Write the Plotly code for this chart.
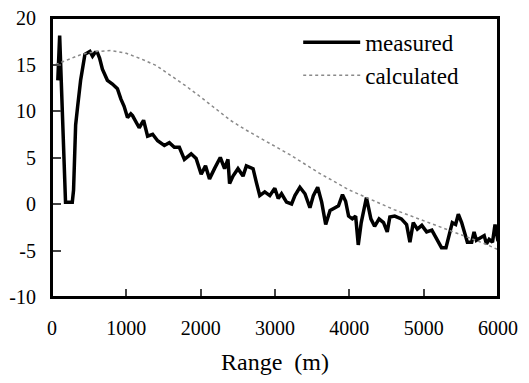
import plotly.graph_objects as go

# measured series (range in m, value)
meas_range = [78, 90, 103, 182, 273, 290, 318, 345, 385, 443, 475, 510, 545, 580, 610, 640,
              678, 745, 813, 880, 926, 970, 1016, 1060, 1083, 1128, 1173, 1232, 1286, 1354,
              1421, 1511, 1578, 1646, 1713, 1781, 1872, 1939, 2007, 2065, 2119, 2186, 2264,
              2322, 2367, 2389, 2435, 2502, 2570, 2615, 2705, 2750, 2795, 2862, 2930, 2997,
              3043, 3088, 3155, 3223, 3268, 3335, 3403, 3470, 3516, 3574, 3628, 3682, 3741,
              3808, 3854, 3908, 3950, 3990, 4040, 4085, 4120, 4160, 4230, 4290, 4340, 4400,
              4460, 4510, 4545, 4610, 4700, 4770, 4815, 4860, 4915, 4975, 5040, 5110, 5180,
              5240, 5300, 5340, 5385, 5430, 5466, 5511, 5543, 5588, 5646, 5678, 5709, 5768,
              5814, 5845, 5881, 5926, 5960, 6000]
meas_value = [13.3, 15.0, 18.1, 0.2, 0.2, 1.5, 8.5, 10.5, 13.3, 16.1, 16.2, 16.4, 15.9, 16.3,
              16.3, 15.7, 14.5, 13.3, 12.9, 12.4, 11.3, 10.5, 9.3, 9.7, 9.5, 8.8, 8.2, 9.0,
              7.3, 7.5, 6.8, 6.3, 6.6, 6.1, 6.1, 4.8, 5.4, 4.9, 3.2, 4.1, 2.7, 3.8, 5.0, 3.8,
              4.8, 2.2, 3.0, 3.8, 3.0, 4.1, 3.8, 2.3, 0.9, 1.3, 0.9, 1.7, 0.6, 1.1, 0.2, 0.0,
              0.9, 1.8, 1.1, -0.4, 0.9, 1.8, 0.2, -2.2, -0.7, -0.4, -0.2, 1.0, 0.3, -1.3,
              -1.6, -1.3, -4.4, -2.0, 0.7, -1.6, -2.4, -1.6, -2.0, -3.0, -1.4, -1.3, -1.6,
              -2.2, -4.1, -2.0, -2.7, -2.3, -3.0, -2.8, -3.8, -4.7, -4.7, -3.4, -2.0, -2.2,
              -1.1, -2.0, -2.9, -4.1, -4.1, -3.0, -3.9, -3.6, -3.4, -4.3, -3.8, -4.1, -2.2,
              -4.0]

# calculated series
calc_range = [50, 200, 400, 600, 800, 1000, 1200, 1400, 1600, 1800, 2000, 2200, 2400, 2600,
              2800, 3000, 3200, 3400, 3600, 3800, 4000, 4200, 4400, 4600, 4800, 5000, 5200,
              5400, 5600, 5800, 6000]
calc_value = [15.0, 15.5, 16.1, 16.4, 16.5, 16.2, 15.6, 14.9, 13.8, 12.7, 11.5, 10.3, 9.0,
              8.0, 7.1, 6.2, 5.3, 4.3, 3.3, 2.4, 1.5, 0.8, 0.1, -0.6, -1.2, -1.8, -2.4, -3.0,
              -3.6, -4.2, -4.9]

x_ticks = [0, 1000, 2000, 3000, 4000, 5000, 6000]
y_ticks = [-10, -5, 0, 5, 10, 15, 20]
y_tick_labels = ["-10", "-5", "0", "5", "10", "15", "20"]

FONT = "Liberation Serif"

fig = go.Figure()
fig.add_trace(go.Scatter(x=meas_range, y=meas_value, mode="lines", name="measured",
                         line=dict(color="black", width=3.5)))
fig.add_trace(go.Scatter(x=calc_range, y=calc_value, mode="lines", name="calculated",
                         line=dict(color="#8a8a8a", width=1.5, dash="dot")))

fig.update_layout(
    width=513, height=367,
    margin=dict(l=44, r=23, t=10, b=78, autoexpand=False),
    paper_bgcolor="white", plot_bgcolor="white",
    font=dict(family=FONT, size=20, color="black"),
    showlegend=True,
    legend=dict(x=0.552, y=0.99, xanchor="left", yanchor="top",
                bgcolor="rgba(0,0,0,0)", font=dict(family=FONT, size=23),
                itemwidth=57),
    xaxis=dict(range=[0, 6000], tickvals=x_ticks, ticks="inside", ticklen=8, tickwidth=2,
               showline=True, linewidth=2, linecolor="black", mirror=True, automargin=False,
               showgrid=False, zeroline=False, ticklabelstandoff=12, ticklabeloverflow="allow",
               title=dict(text="Range  (m)", font=dict(family=FONT, size=24), standoff=19)),
    yaxis=dict(range=[-10, 20], tickvals=y_ticks, ticktext=y_tick_labels, ticks="inside",
               ticklen=9, tickwidth=2,
               showline=True, linewidth=2, linecolor="black", mirror=True, automargin=False,
               showgrid=False, zeroline=False, ticklabelstandoff=10, ticklabeloverflow="allow"),
    shapes=[dict(type="rect", xref="paper", yref="paper", x0=0, x1=1, y0=0, y1=1,
                 line=dict(color="black", width=2), fillcolor="rgba(0,0,0,0)", layer="above")],
)

fig.write_html("out.html")
